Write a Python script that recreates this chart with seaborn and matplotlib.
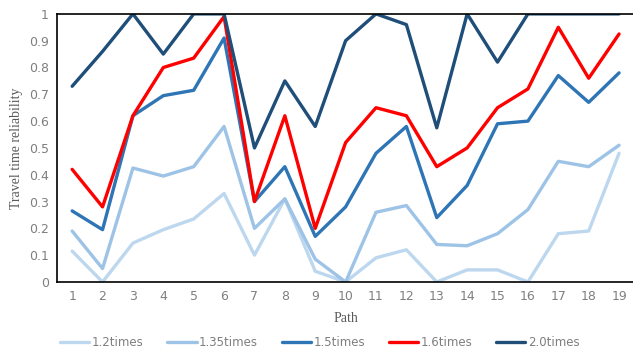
import pandas as pd
import seaborn as sns
import matplotlib.pyplot as plt

paths = list(range(1, 20))
r_1_2 = [0.115, 0, 0.145, 0.195, 0.235, 0.33, 0.10, 0.31, 0.04, 0, 0.09, 0.12, 0, 0.045, 0.045, 0, 0.18, 0.19, 0.48]
r_1_35 = [0.19, 0.05, 0.425, 0.395, 0.43, 0.58, 0.20, 0.31, 0.085, 0, 0.26, 0.285, 0.14, 0.135, 0.18, 0.27, 0.45, 0.43, 0.51]
r_1_5 = [0.265, 0.195, 0.62, 0.695, 0.715, 0.91, 0.30, 0.43, 0.17, 0.28, 0.48, 0.58, 0.24, 0.36, 0.59, 0.60, 0.77, 0.67, 0.78]
r_1_6 = [0.42, 0.28, 0.62, 0.80, 0.835, 0.99, 0.30, 0.62, 0.20, 0.52, 0.65, 0.62, 0.43, 0.50, 0.65, 0.72, 0.95, 0.76, 0.925]
r_2_0 = [0.73, 0.86, 1.0, 0.85, 1.0, 1.0, 0.50, 0.75, 0.58, 0.90, 1.0, 0.96, 0.575, 1.0, 0.82, 1.0, 1.0, 1.0, 1.0]

names = ['1.2times', '1.35times', '1.5times', '1.6times', '2.0times']
colors = ['#bdd7ee', '#9dc3e6', '#2e75b6', '#ff0000', '#1f4e79']

df = pd.concat([pd.DataFrame({'Path': paths, 'rel': v, 'series': n})
                for n, v in zip(names, [r_1_2, r_1_35, r_1_5, r_1_6, r_2_0])])

sns.set_style('white')
fig = plt.figure(figsize=(6.33, 3.56), dpi=100)
ax = fig.add_axes([0.090, 0.208, 0.912, 0.753])

sns.lineplot(data=df, x='Path', y='rel', hue='series', palette=dict(zip(names, colors)),
             linewidth=2.4, ax=ax, legend=False)

ax.set_xlim(0.5, 19.5)
ax.set_ylim(0, 1)
ax.set_xticks(paths)
ax.set_yticks([i / 10 for i in range(11)])
ax.set_yticklabels(['0'] + ['0.%d' % i for i in range(1, 10)] + ['1'])
ax.tick_params(axis='both', length=0, labelsize=9, colors='#7f7f7f', pad=6)
for s in ['left', 'bottom', 'top']:
    ax.spines[s].set_color('black')
    ax.spines[s].set_linewidth(1.2)
ax.spines['right'].set_visible(False)

ax.set_xlabel('Path', family='Liberation Serif', fontsize=10, color='#595959', labelpad=6)
ax.set_ylabel('Travel time reliability', family='Liberation Serif', fontsize=10, color='#595959', labelpad=4)

handles = [plt.Line2D([], [], color=c, linewidth=2.4) for c in colors]
fig.legend(handles, names, loc='lower center', bbox_to_anchor=(0.505, -0.01), ncol=5,
           frameon=False, fontsize=8.5, handlelength=2.5, columnspacing=2.0,
           handletextpad=0.2, labelcolor='#7f7f7f')

fig.savefig('out.png', dpi=100)
